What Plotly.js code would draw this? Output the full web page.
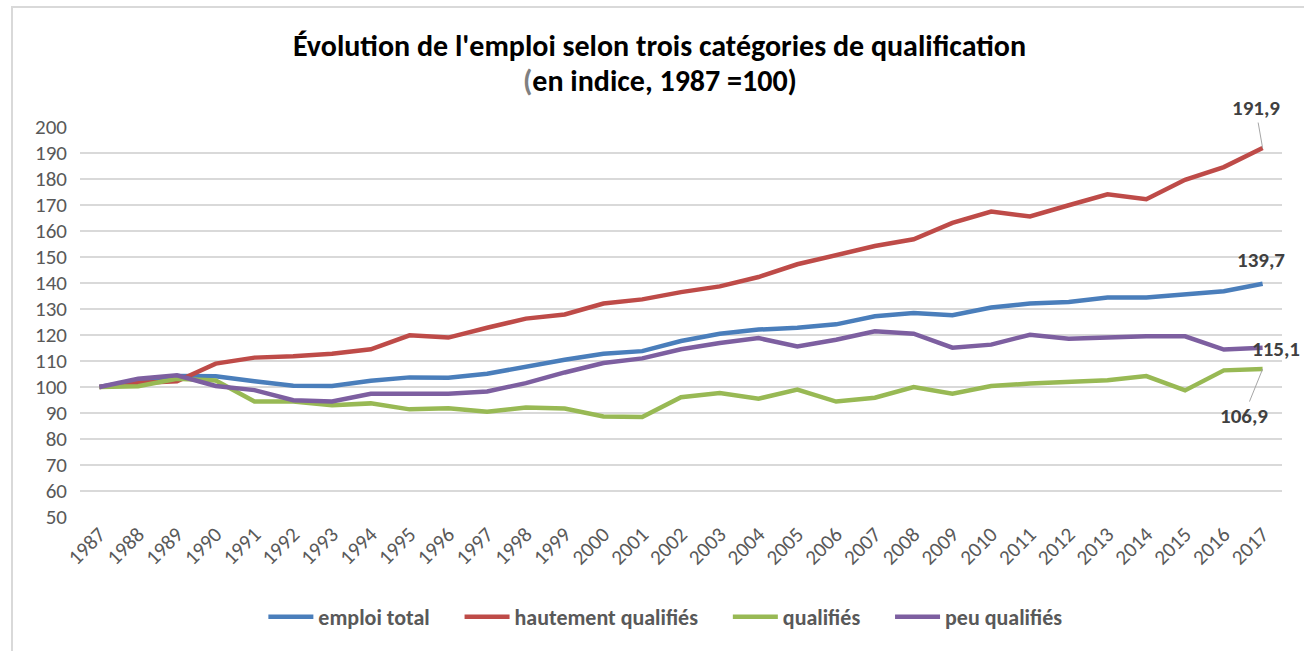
<!DOCTYPE html>
<html>
<head>
<meta charset="utf-8">
<script src="https://cdn.plot.ly/plotly-3.0.1.min.js"></script>
<style>
  html, body { margin: 0; padding: 0; background: #fff; }
  #wrap { position: relative; width: 1304px; height: 651px; overflow: hidden; }
  #chart { width: 1304px; height: 651px; }
  #frame { position: absolute; left: 11px; top: 6px; width: 1300px; height: 660px;
           border: 2px solid #d9d9d9; pointer-events: none; box-sizing: border-box; }
</style>
</head>
<body>
<div id="wrap">
  <div id="chart"></div>
  <div id="frame"></div>
</div>
<script>
const years = ["1987","1988","1989","1990","1991","1992","1993","1994","1995","1996",
  "1997","1998","1999","2000","2001","2002","2003","2004","2005","2006","2007","2008",
  "2009","2010","2011","2012","2013","2014","2015","2016","2017"];

const emploiTotal = [100, 102.5, 104.2, 104.1, 102.2, 100.5, 100.4, 102.4, 103.7, 103.6,
  105.1, 107.9, 110.5, 112.8, 113.8, 117.7, 120.5, 122.1, 122.8, 124.1, 127.2, 128.5,
  127.6, 130.6, 132.1, 132.7, 134.4, 134.4, 135.6, 136.8, 139.7];

const hautementQualifies = [100, 101.5, 102.2, 109.0, 111.3, 111.8, 112.8, 114.5, 119.9, 119.0,
  122.8, 126.3, 127.9, 132.1, 133.7, 136.5, 138.7, 142.3, 147.2, 150.5, 154.2, 156.8,
  163.1, 167.5, 165.6, 169.9, 174.1, 172.2, 179.7, 184.6, 191.9];

const qualifies = [100, 100.3, 103.2, 102.5, 94.4, 94.4, 93.0, 93.7, 91.4, 91.8,
  90.5, 92.1, 91.7, 88.7, 88.5, 96.1, 97.7, 95.5, 99.0, 94.4, 95.9, 100.0,
  97.4, 100.4, 101.3, 102.0, 102.6, 104.2, 98.7, 106.4, 106.9];

const peuQualifies = [100, 103.2, 104.5, 100.4, 98.8, 94.9, 94.4, 97.4, 97.4, 97.4,
  98.3, 101.5, 105.6, 109.2, 111.0, 114.5, 116.9, 118.8, 115.6, 118.2, 121.4, 120.5,
  115.1, 116.3, 120.1, 118.6, 119.0, 119.5, 119.5, 114.4, 115.1];

const seriesNames = ["emploi total", "hautement qualifiés", "qualifiés", "peu qualifiés"];
const titleLine1 = "Évolution de l'emploi selon trois catégories de qualification";
const titleLine2Paren = "(";
const titleLine2Rest = "en indice, 1987 =100)";
const yTicks = [50, 60, 70, 80, 90, 100, 110, 120, 130, 140, 150, 160, 170, 180, 190, 200];

const FONT = "Calibri, Carlito, Lato, 'Open Sans', sans-serif";
const colors = ["#4a7ebb", "#be4b48", "#98b954", "#7d5fa0"];
const allSeries = [emploiTotal, hautementQualifies, qualifies, peuQualifies];
const PAD = "&nbsp;&nbsp;&nbsp;&nbsp;&nbsp;";

const traces = allSeries.map((s, i) => ({
  type: "scatter",
  mode: "lines",
  x: years,
  y: s,
  name: "<b>" + seriesNames[i] + "</b>" + (i < allSeries.length - 1 ? PAD : ""),
  line: { color: colors[i], width: 4.5 },
  hoverinfo: "x+y"
}));

const last = years.length - 1;
const fmt = v => v.toFixed(1).replace(".", ",");
const annFont = { family: FONT, size: 21, color: "#404040" };

const annotations = [
  { xref: "paper", yref: "paper", x: 0.4825, y: 1.2077, xanchor: "center", yanchor: "middle",
    text: "<b>" + titleLine1 + "</b>", showarrow: false,
    font: { family: FONT, size: 30, color: "#000000" } },
  { xref: "paper", yref: "paper", x: 0.4825, y: 1.1205, xanchor: "center", yanchor: "middle",
    text: "<b><span style='color:#808080'>" + titleLine2Paren + "</span>" + titleLine2Rest + "</b>",
    showarrow: false,
    font: { family: FONT, size: 30, color: "#000000" } },
  { x: last, y: hautementQualifies[last], xref: "x", yref: "y",
    text: "<b>" + fmt(hautementQualifies[last]) + "</b>", showarrow: true,
    arrowhead: 0, arrowwidth: 1, arrowcolor: "#a6a6a6", ax: -7, ay: -40, standoff: 0,
    font: annFont },
  { x: last, y: emploiTotal[last], xref: "x", yref: "y",
    text: "<b>" + fmt(emploiTotal[last]) + "</b>", showarrow: false,
    xshift: -2, yshift: 24, font: annFont },
  { x: last, y: peuQualifies[last], xref: "x", yref: "y",
    text: "<b>" + fmt(peuQualifies[last]) + "</b>", showarrow: false,
    xshift: 13, yshift: -1, font: annFont },
  { x: last, y: qualifies[last], xref: "x", yref: "y",
    text: "<b>" + fmt(qualifies[last]) + "</b>", showarrow: true,
    arrowhead: 0, arrowwidth: 1, arrowcolor: "#a6a6a6", ax: -19, ay: 47, standoff: 0,
    font: annFont }
];

const layout = {
  width: 1304,
  height: 651,
  paper_bgcolor: "#ffffff",
  plot_bgcolor: "#ffffff",
  margin: { l: 80, r: 22, t: 127, b: 134 },
  xaxis: {
    type: "category",
    range: [-0.5, 30.5],
    tickangle: -45,
    showgrid: false,
    showline: false,
    zeroline: false,
    ticks: "",
    tickfont: { family: FONT, size: 21, color: "#595959" },
    fixedrange: true
  },
  yaxis: {
    range: [50, 200],
    tickvals: yTicks,
    ticktext: yTicks.map(String),
    showgrid: true,
    gridcolor: "#d9d9d9",
    gridwidth: 1.5,
    zeroline: false,
    showline: false,
    ticks: "",
    ticklabelstandoff: 12,
    tickfont: { family: FONT, size: 21, color: "#595959" },
    fixedrange: true
  },
  showlegend: true,
  legend: {
    orientation: "h",
    x: 0.487, xanchor: "center",
    y: -0.256, yanchor: "middle",
    itemwidth: 45,
    font: { family: FONT, size: 22, color: "#595959" },
    bgcolor: "rgba(0,0,0,0)"
  },
  annotations: annotations
};

Plotly.newPlot("chart", traces, layout, { displayModeBar: false, staticPlot: true });
</script>
</body>
</html>
